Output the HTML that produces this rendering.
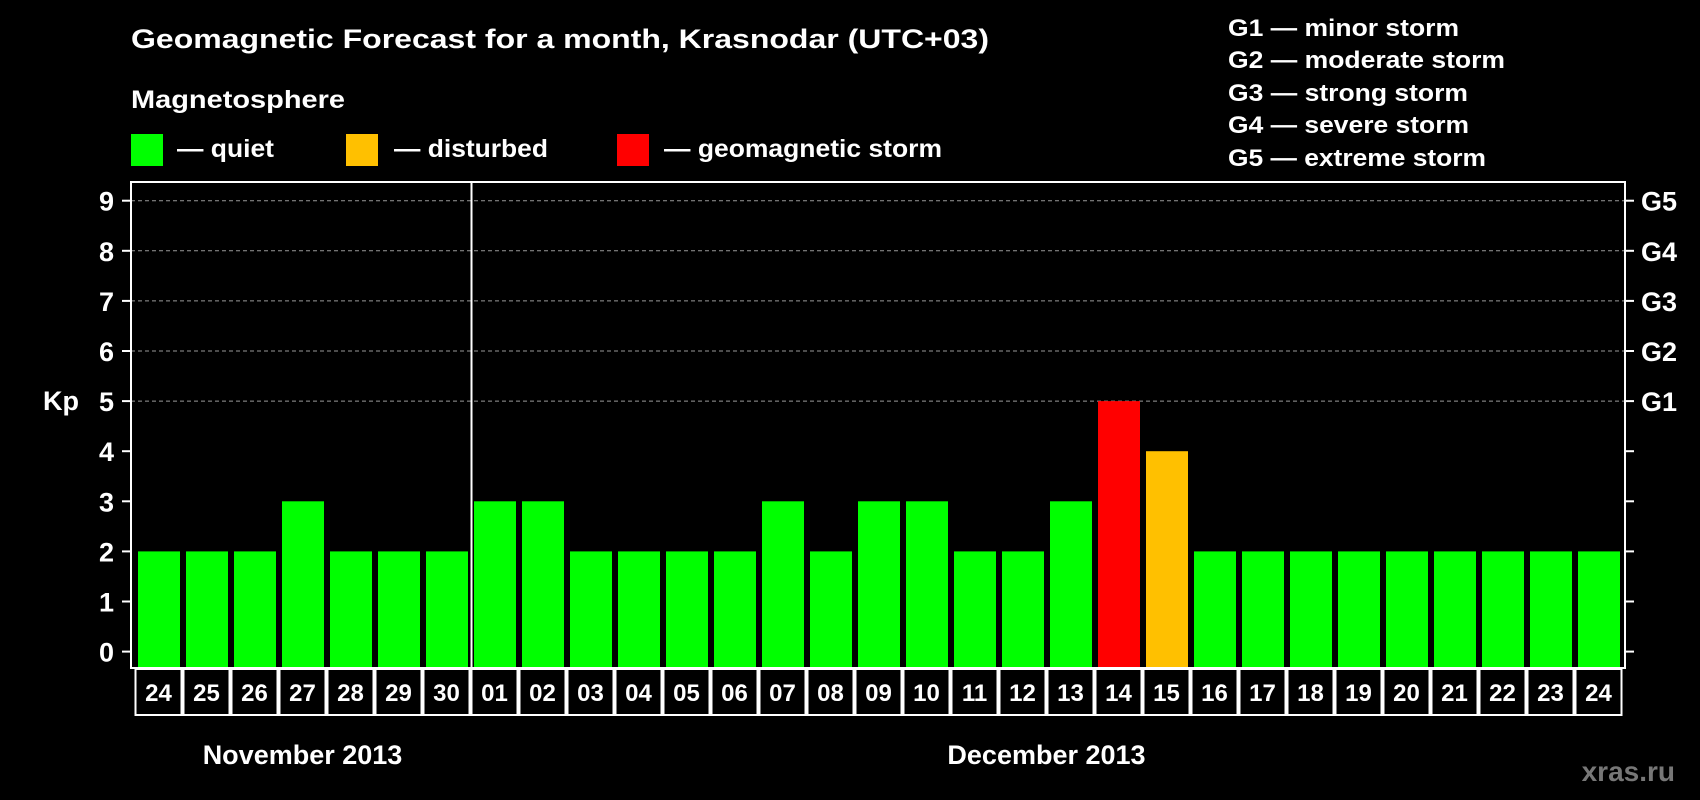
<!DOCTYPE html>
<html><head><meta charset="utf-8"><style>
html,body{margin:0;padding:0;background:#000;}
svg{display:block;font-family:"Liberation Sans",Arial,sans-serif;font-weight:bold;}
</style></head><body>
<svg id="chart" width="1700" height="800" viewBox="0 0 1700 800" xmlns="http://www.w3.org/2000/svg">
<rect width="1700" height="800" fill="#000"/>
<text x="131" y="48" fill="#fff" font-size="27" textLength="858" lengthAdjust="spacingAndGlyphs">Geomagnetic Forecast for a month, Krasnodar (UTC+03)</text>
<text x="131" y="108" fill="#fff" font-size="25" textLength="214" lengthAdjust="spacingAndGlyphs">Magnetosphere</text>
<rect x="131" y="134" width="32" height="32" fill="#00ff00"/>
<text x="177" y="157" fill="#fff" font-size="25" textLength="97" lengthAdjust="spacingAndGlyphs">— quiet</text>
<rect x="346" y="134" width="32" height="32" fill="#ffc000"/>
<text x="394" y="157" fill="#fff" font-size="25" textLength="154" lengthAdjust="spacingAndGlyphs">— disturbed</text>
<rect x="617" y="134" width="32" height="32" fill="#ff0000"/>
<text x="664" y="157" fill="#fff" font-size="25" textLength="278" lengthAdjust="spacingAndGlyphs">— geomagnetic storm</text>
<g fill="#fff" font-size="24">
<text x="1228" y="36" textLength="231" lengthAdjust="spacingAndGlyphs">G1 — minor storm</text>
<text x="1228" y="68" textLength="277" lengthAdjust="spacingAndGlyphs">G2 — moderate storm</text>
<text x="1228" y="101" textLength="240" lengthAdjust="spacingAndGlyphs">G3 — strong storm</text>
<text x="1228" y="133" textLength="241" lengthAdjust="spacingAndGlyphs">G4 — severe storm</text>
<text x="1228" y="166" textLength="258" lengthAdjust="spacingAndGlyphs">G5 — extreme storm</text>
</g>
<text x="43" y="410" fill="#fff" font-size="27">Kp</text>
<text x="1675" y="781" fill="#777" font-size="28" text-anchor="end">xras.ru</text>
<g id="grid"></g>
<g id="bars"></g>
<g id="axes"></g>
</svg>
<script>
const days = ["24","25","26","27","28","29","30","01","02","03","04","05","06","07","08","09","10","11","12","13","14","15","16","17","18","19","20","21","22","23","24"];
const kpValues = [2,2,2,3,2,2,2,3,3,2,2,2,2,3,2,3,3,2,2,3,5,4,2,2,2,2,2,2,2,2,2];
const yTicks = [0,1,2,3,4,5,6,7,8,9];
const gLabels = ["G1","G2","G3","G4","G5"];
const months = ["November 2013","December 2013"];
const monthStartIdx = [0,7];

const NS="http://www.w3.org/2000/svg";
const L=131,R=1625,T=182,B=668,Y0=651.6,UNIT=50.1,X0=134.5,PITCH=48,BW=42;
const y=v=>Y0-v*UNIT;
const x=i=>X0+i*PITCH;
function mk(tag,attrs,parent){const e=document.createElementNS(NS,tag);for(const k in attrs)e.setAttribute(k,attrs[k]);parent.appendChild(e);return e;}
const grid=document.getElementById('grid'),bars=document.getElementById('bars'),axes=document.getElementById('axes');

yTicks.forEach(v=>{
  if(v>=5){const g=mk('line',{x1:L,x2:R,y1:y(v),y2:y(v),stroke:'#999','stroke-width':1,'stroke-dasharray':'4 3'},grid);
  
  }
  const tl=mk('line',{x1:L-9,x2:L,y1:y(v),y2:y(v),stroke:'#fff','stroke-width':2},axes);
  
  
  const tr=mk('line',{x1:R,x2:R+9,y1:y(v),y2:y(v),stroke:'#fff','stroke-width':2},axes);
  
  
  const t=mk('text',{x:114,y:y(v)+10,fill:'#fff','font-size':27,'text-anchor':'end'},axes);
  t.textContent=v;
  
  
});
gLabels.forEach((g,i)=>{
  const t=mk('text',{x:1641,y:y(5+i)+10,fill:'#fff','font-size':27},axes);
  t.textContent=g;
  
  
});
kpValues.forEach((v,i)=>{
  const c=v>=5?'#ff0000':(v>=4?'#ffc000':'#00ff00');
  const b=mk('rect',{x:x(i)+3.5,y:y(v),width:BW,height:B-y(v)-1,fill:c},bars);
  
  
  const box=mk('rect',{x:x(i)+1,y:B+1,width:PITCH-2,height:46,fill:'none',stroke:'#fff','stroke-width':2},axes);
  
  
  const t=mk('text',{x:x(i)+PITCH/2,y:B+33,fill:'#fff','font-size':24,'text-anchor':'middle'},axes);
  t.textContent=days[i];
  
  
});
const frame=mk('rect',{x:L,y:T,width:R-L,height:B-T,fill:'none',stroke:'#fff','stroke-width':2},axes);


const sep=mk('line',{x1:x(monthStartIdx[1])+1,x2:x(monthStartIdx[1])+1,y1:T,y2:B,stroke:'#fff','stroke-width':2},axes);


months.forEach((m,k)=>{
  const s=monthStartIdx[k],e=k+1<monthStartIdx.length?monthStartIdx[k+1]:days.length;
  const t=mk('text',{x:(x(s)+x(e))/2,y:764,fill:'#fff','font-size':27,'text-anchor':'middle'},axes);
  t.textContent=m;
  
  
});
</script>
</body></html>
